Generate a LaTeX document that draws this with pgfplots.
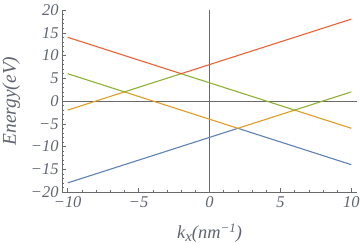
\documentclass[border=0pt]{standalone}
\usepackage{fontspec}
\setmainfont{Liberation Serif}
\usepackage{pgfplots}
\pgfplotsset{compat=1.18}
\definecolor{mblue}{HTML}{5E81B5}
\definecolor{morange}{HTML}{E19C24}
\definecolor{mgreen}{HTML}{8FB032}
\definecolor{mred}{HTML}{EB6235}
\definecolor{axgray}{HTML}{6A6A6A}
\definecolor{txtgray}{HTML}{5F6470}
\newcommand{\lblfont}{\fontsize{16.5}{19}\selectfont\itshape}
\newcommand{\axlblfont}{\fontsize{18.5}{22}\selectfont\itshape}
\begin{document}
\begin{tikzpicture}[x=1bp,y=1bp]
\path[use as bounding box] (0,0) rectangle (360,244);
\begin{axis}[
 at={(62bp,52bp)}, anchor=south west, scale only axis,
 width=295bp, height=182bp,
 xmin=-10.4, xmax=10.4, ymin=-20, ymax=20,
 axis x line*=bottom, axis y line*=left,
 axis line style={axgray, line width=0.6bp, -},
 tick align=inside,
 xtick={-10,-5,0,5,10},
 xticklabels={−10,−5,0,5,10},
 ytick={-20,-15,-10,-5,0,5,10,15,20},
 yticklabels={−20,−15,−10,−5,0,5,10,15,20},
 minor x tick num=4, minor y tick num=4,
 major tick length=4bp, minor tick length=2.2bp,
 tick style={axgray, line width=0.5bp},
 xticklabel style={font=\lblfont, text=txtgray, yshift=-1bp},
 yticklabel style={font=\lblfont, text=txtgray},
 xlabel={k{\fontsize{15}{18}\selectfont\raisebox{-0.25em}{x}}(nm{\fontsize{13}{15}\selectfont\raisebox{0.45em}{−1}})},
 ylabel={Energy(eV)},
 every axis x label/.style={at={(axis description cs:0.5,-0.225)}, anchor=center, font=\axlblfont, text=txtgray},
 every axis y label/.style={at={(axis description cs:-0.172,0.5)}, rotate=90, anchor=center, font=\fontsize{19.5}{22}\selectfont\itshape, text=txtgray},
 clip=false,
]
\draw[axgray, line width=0.6bp] (axis cs:-10.4,0) -- (axis cs:10.4,0);
\draw[axgray, line width=0.6bp] (axis cs:0,-20) -- (axis cs:0,20);
\addplot[mblue, line width=1.1bp] coordinates {(-10,-18) (2,-6) (10,-14)};
\addplot[morange, line width=1.1bp] coordinates {(-10,-2) (-6,2) (2,-6) (6,-2) (10,-6)};
\addplot[mgreen, line width=1.1bp] coordinates {(-10,6) (-6,2) (-2,6) (6,-2) (10,2)};
\addplot[mred, line width=1.1bp] coordinates {(-10,14) (-2,6) (10,18)};
\end{axis}
\end{tikzpicture}
\end{document}
